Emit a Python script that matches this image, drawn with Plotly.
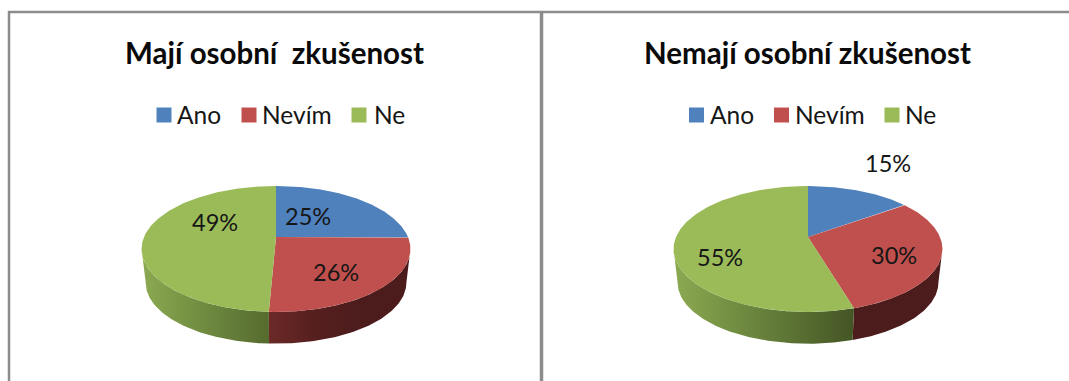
import numpy as np
import plotly.graph_objects as go

# ---- data ----
CATEGORIES = ["Ano", "Nevím", "Ne"]
TITLES = ["Mají osobní  zkušenost", "Nemají osobní zkušenost"]
VALUES_MAJI = [25.1, 25.6, 49.3]
VALUES_NEMAJI = [15.0, 30.4, 54.6]

# ---- styles ----
TOP_COLORS = ["#4f81bd", "#c0504d", "#9bbb59"]
TEXT = "#161616"
FRAME = "#8c8c8c"
FONT = "Lato, Carlito, Calibri, sans-serif"
WALLS = [
    {1: ["#6b2a28", "#551f1e", "#4c1c1c", "#4c1c1c"], 2: ["#8caa52", "#789545", "#66803a", "#566b2e"]},
    {1: ["#4d1d1d", "#4c1c1c", "#4c1c1c", "#4c1c1c"], 2: ["#8caa52", "#728e42", "#5b7233", "#445525"]},
]

# ---- layout of the two pies (pixels of the reference) ----
APEX = [(276.0, 237.0), (808.0, 237.0)]
BX, AY, K = 132.0, 60.7, 0.19     # perspective of the tilted disc
DEPTH, RIM = 34.0, 0.97           # wall height and shrink of the lower rim
VISIBLE = (np.degrees(np.arccos(-K)), 360 - np.degrees(np.arccos(-K)))
TITLE_X = [274.5, 807.5]
TITLE_Y = 52
LEGEND_Y = 114.5
SWATCH_X = [[164, 249, 359], [696.5, 781.5, 892]]
LEGEND_TEXT_X = [[175, 260, 372], [708, 793, 903]]
LABEL_XY = [[(307.5, 216), (336, 272), (215, 222)], [(888, 163), (893.5, 255), (720, 257)]]


def project(theta_deg, apex, scale=1.0, drop=0.0):
    t = np.radians(theta_deg)
    u, v = np.sin(t), np.cos(t)
    w = 1 + K * v
    return apex[0] + scale * BX * u / w, apex[1] - scale * AY * v / w + drop


fig = go.Figure()
shapes = []
annotations = []

for p, values in enumerate([VALUES_MAJI, VALUES_NEMAJI]):
    total = sum(values)
    edges = np.concatenate([[0], np.cumsum(values)]) / total * 360
    apex = APEX[p]

    # walls first, top faces over them
    for i in range(len(values)):
        a, b = max(edges[i], VISIBLE[0]), min(edges[i + 1], VISIBLE[1])
        if b <= a:
            continue
        th = np.linspace(a, b, 120)
        x1, y1 = project(th, apex)
        x2, y2 = project(th[::-1], apex, RIM, DEPTH)
        cols = WALLS[p][i]
        fig.add_trace(go.Scatter(
            x=np.concatenate([x1, x2, x1[:1]]), y=np.concatenate([y1, y2, y1[:1]]),
            mode="lines", line=dict(width=0), fill="toself",
            fillgradient=dict(type="horizontal",
                              colorscale=[[j / (len(cols) - 1), c] for j, c in enumerate(cols)]),
            hoverinfo="skip", showlegend=False))

    for i, v in enumerate(values):
        th = np.linspace(edges[i], edges[i + 1], 200)
        x, y = project(th, apex)
        label = f"{round(v)}%"
        fig.add_trace(go.Scatter(
            x=np.concatenate([[apex[0]], x, [apex[0]]]),
            y=np.concatenate([[apex[1]], y, [apex[1]]]),
            mode="lines", line=dict(width=0), fill="toself", fillcolor=TOP_COLORS[i],
            name=CATEGORIES[i], text=label, hoverinfo="name+text", showlegend=False))
        lx, ly = LABEL_XY[p][i]
        annotations.append(dict(x=lx, y=ly, text=label, showarrow=False,
                                font=dict(family=FONT, size=23.5, color=TEXT)))

    # legend row
    fig.add_trace(go.Scatter(
        x=SWATCH_X[p], y=[LEGEND_Y + 0.5] * 3, mode="markers",
        marker=dict(symbol="square", size=15, color=TOP_COLORS, line=dict(width=0)),
        hoverinfo="skip", showlegend=False))
    for i, name in enumerate(CATEGORIES):
        annotations.append(dict(x=LEGEND_TEXT_X[p][i], y=LEGEND_Y, text=name, showarrow=False,
                                xanchor="left", font=dict(family=FONT, size=24.5, color=TEXT)))

    annotations.append(dict(x=TITLE_X[p], y=TITLE_Y, text=f"<b>{TITLES[p]}</b>", showarrow=False,
                            font=dict(family=FONT, size=29.5, color="#0a0a0a")))

# frame lines
for x0, y0, x1, y1, w in [(8, 12, 1069, 12, 2.5), (9, 11, 9, 381, 2.5), (541.5, 12, 541.5, 381, 3.5)]:
    shapes.append(dict(type="line", x0=x0, y0=y0, x1=x1, y1=y1, line=dict(color=FRAME, width=w), layer="below"))

fig.update_layout(
    width=1069, height=381, margin=dict(l=0, r=0, t=0, b=0),
    paper_bgcolor="white", plot_bgcolor="white", showlegend=False,
    xaxis=dict(range=[0, 1069], visible=False, fixedrange=True),
    yaxis=dict(range=[381, 0], visible=False, fixedrange=True),
    shapes=shapes, annotations=annotations,
)

fig.write_html("out.html", config={"displayModeBar": False},
               post_script="document.body.style.margin='0';document.body.style.overflow='hidden';")
